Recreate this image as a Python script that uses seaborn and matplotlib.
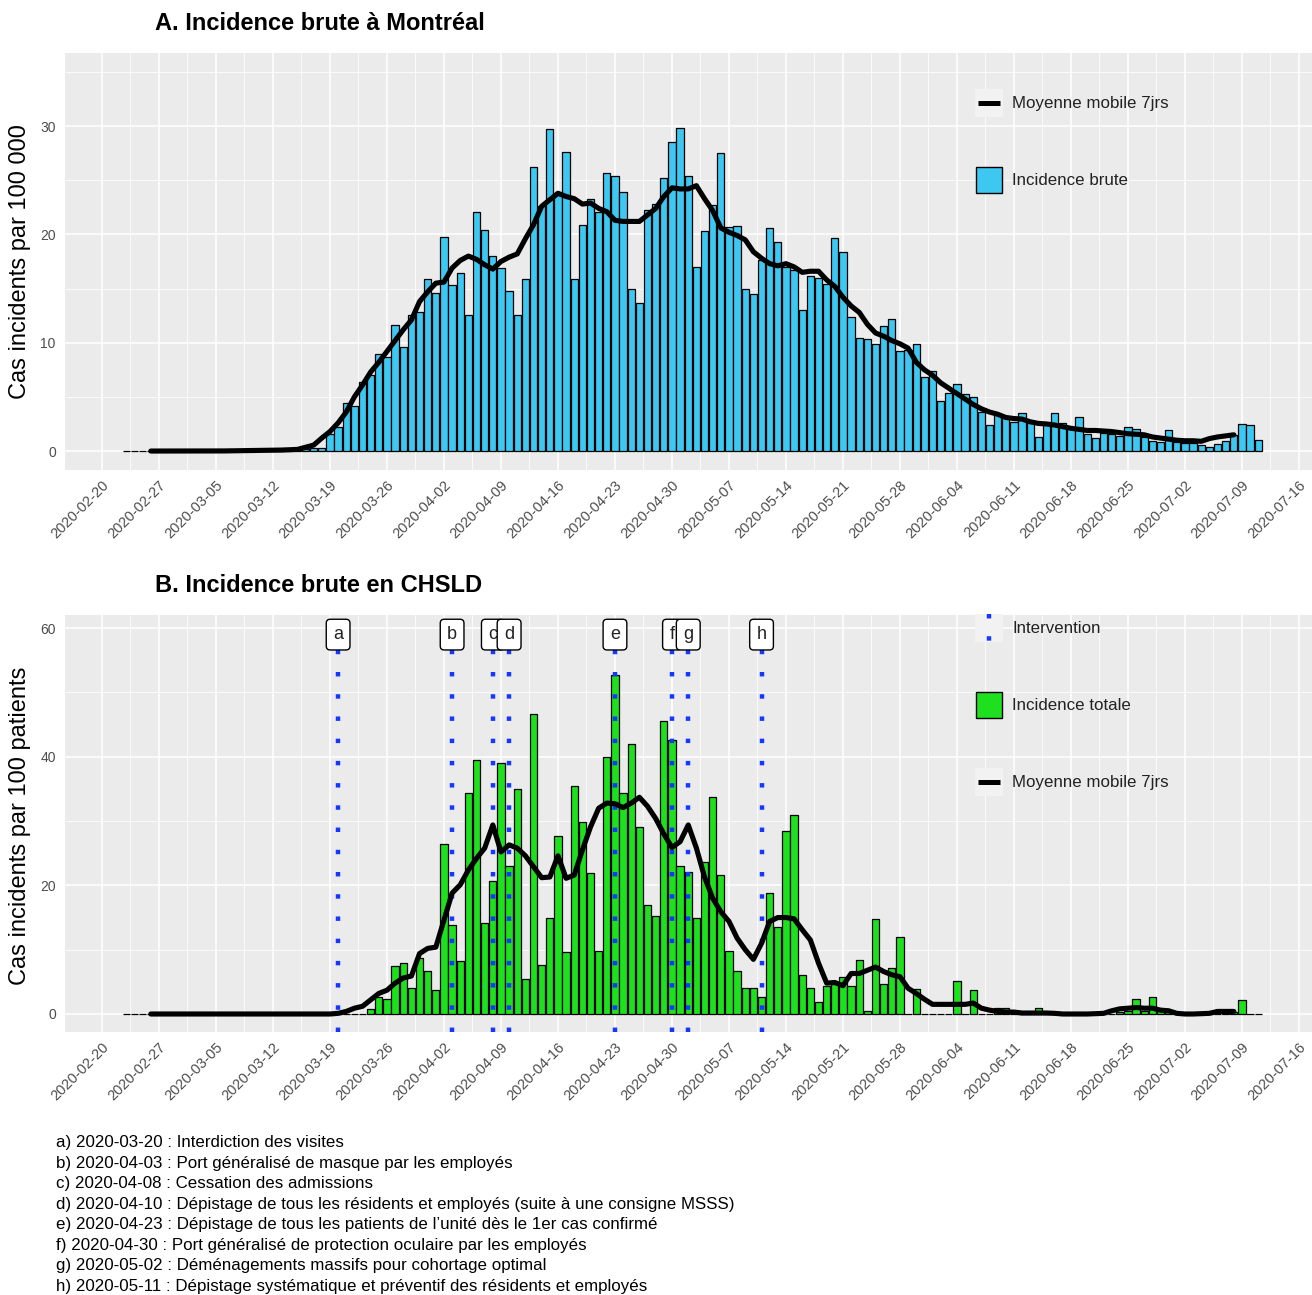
import numpy as np
import pandas as pd
import matplotlib
matplotlib.use("Agg")
import matplotlib.pyplot as plt
import matplotlib.dates as mdates
from matplotlib.lines import Line2D
from matplotlib.patches import Rectangle, Patch
from matplotlib.legend_handler import HandlerBase
from matplotlib.ticker import FixedLocator, NullFormatter
import seaborn as sns

# ---------------- data ----------------
first_day = "2020-02-23"
ma_first_day = "2020-02-26"

mtl_incidence = [0, 0, 0, 0, 0, 0, 0, 0, 0, 0, 0, 0,
                 0.02, 0.02, 0.02, 0.02, 0.05, 0.05, 0.05,
                 0.08, 0.1, 0.15, 0.15, 0.25, 0.3,
                 1.6, 2.2, 4.4, 4.2, 6.4, 7.0, 9.0, 8.7, 11.6, 9.6,
                 12.6, 12.8, 15.9, 14.6, 19.8, 15.3, 16.4, 12.6, 22.1, 20.4,
                 18.0, 16.9, 14.8, 12.6, 15.9, 26.2, 22.6, 29.7, 23.6, 27.6,
                 15.9, 20.9, 23.3, 22.1, 25.7, 25.4, 23.9, 15.0, 13.7, 22.3,
                 22.8, 25.2, 28.5, 29.8, 25.4, 17.0, 20.3, 22.7, 27.5, 20.7,
                 20.8, 15.0, 14.5, 17.6, 20.6, 19.3, 17.0, 16.7, 13.0, 16.2,
                 16.0, 15.4, 19.7, 18.4, 12.4, 10.4, 10.3, 9.9, 11.5, 12.2,
                 9.2, 9.3, 9.9, 6.8, 7.4, 4.6, 5.4, 6.2, 5.3, 5.0,
                 3.6, 2.4, 3.3, 3.1, 2.7, 3.5, 2.7, 1.3, 2.5, 3.5,
                 2.6, 2.2, 3.1, 1.6, 1.2, 1.7, 1.6, 1.4, 2.2, 2.0,
                 1.3, 0.9, 0.8, 1.9, 0.8, 0.7, 0.7, 0.55, 0.4, 0.65,
                 0.9, 1.5, 2.5, 2.4, 1.0]

mtl_ma = [0, 0, 0, 0, 0, 0, 0, 0, 0,
          0.01, 0.02, 0.03, 0.03, 0.04, 0.05,
          0.07, 0.09, 0.12, 0.15, 0.35, 0.55, 1.2,
          1.8, 2.6, 3.6, 5.0, 6.1, 7.3, 8.2, 9.2, 10.2, 11.2,
          12.1, 13.8, 14.7, 15.5, 15.6, 16.9, 17.6, 18.0, 17.7, 17.2,
          16.8, 17.5, 17.9, 18.2, 19.6, 20.9, 22.6, 23.2, 23.8, 23.5,
          23.3, 22.8, 22.9, 22.4, 22.1, 21.3, 21.2, 21.2, 21.2, 21.8,
          22.4, 23.5, 24.3, 24.2, 24.2, 24.5, 23.3, 22.2, 20.6, 20.2,
          19.9, 19.5, 18.4, 17.8, 17.3, 17.1, 17.3, 17.0, 16.5, 16.6,
          16.6, 15.8, 15.2, 14.2, 13.4, 12.8, 11.7, 10.9, 10.6, 10.2,
          9.9, 9.5, 8.2, 7.5, 7.0, 6.3, 5.8, 5.3, 4.8, 4.3,
          3.9, 3.6, 3.4, 3.1, 3.0, 2.95, 2.7, 2.55, 2.5, 2.4,
          2.25, 2.1, 2.0, 1.9, 1.9, 1.85, 1.8, 1.7, 1.6, 1.55,
          1.5, 1.3, 1.2, 1.1, 1.0, 0.95, 0.95, 0.9, 1.15, 1.3,
          1.4, 1.5]

chsld_incidence = [0] * 30 + [
    0.7, 2.7, 2.4, 7.5, 7.9, 4.0, 8.7, 6.7, 3.7, 26.5,
    13.8, 8.3, 34.4, 39.5, 14.1, 20.7, 39.0, 23.0, 35.0, 5.5,
    46.6, 7.6, 14.9, 27.7, 9.7, 35.4, 29.9, 21.9, 9.8, 40.0,
    52.7, 34.3, 42.0, 29.1, 16.9, 15.2, 45.6, 42.6, 23.0, 22.1,
    14.9, 23.7, 33.7, 21.6, 9.8, 6.7, 4.1, 4.0, 2.7, 18.8,
    13.5, 28.5, 30.9, 6.1, 4.0, 1.8, 4.4, 4.6, 5.8, 4.3,
    8.4, 0.5, 14.8, 4.7, 7.1, 11.9, 0.0, 3.9, 0, 0,
    0, 0, 5.2, 0, 3.7, 0, 0, 1.0, 1.0, 0,
    0, 0, 0.9, 0, 0, 0, 0, 0, 0, 0,
    0, 0, 0.3, 0.5, 2.4, 0.5, 2.6, 0.5, 0.3, 0,
    0, 0, 0, 0, 0, 0.3, 0.3, 2.2, 0, 0]

chsld_ma = [0] * 23 + [
    0.1, 0.4, 0.9, 1.2, 2.2, 3.2, 3.7, 4.8, 5.6, 5.9,
    9.4, 10.2, 10.4, 14.6, 18.8, 20.1, 22.4, 24.2, 25.8, 29.4,
    25.2, 26.3, 25.8, 24.6, 22.9, 21.2, 21.3, 24.6, 21.1, 21.6,
    25.5, 29.1, 32.0, 32.8, 32.7, 32.1, 32.8, 33.7, 32.3, 30.4,
    28.0, 25.9, 26.8, 29.4, 25.8, 21.3, 18.0, 15.9, 14.4, 11.8,
    10.0, 8.5, 11.0, 14.4, 15.0, 15.0, 14.8, 13.1, 11.5, 7.9,
    4.8, 4.9, 4.4, 6.3, 6.3, 6.8, 7.3, 6.6, 6.1, 5.8,
    4.0, 3.2, 2.3, 1.5, 1.5, 1.5, 1.5, 1.5, 1.7, 0.9,
    0.6, 0.4, 0.3, 0.3, 0.15, 0.15, 0.15, 0.15, 0.1, 0.0,
    0, 0, 0, 0.05, 0.1, 0.5, 0.8, 0.9, 1.0, 0.9,
    0.9, 0.6, 0.5, 0.1, 0.0, 0.0, 0.05, 0.1, 0.4, 0.4,
    0.4]

interv_dates = ["2020-03-20", "2020-04-03", "2020-04-08", "2020-04-10",
                "2020-04-23", "2020-04-30", "2020-05-02", "2020-05-11"]
interv_letters = ["a", "b", "c", "d", "e", "f", "g", "h"]
interv_text = ["Interdiction des visites",
               "Port généralisé de masque par les employés",
               "Cessation des admissions",
               "Dépistage de tous les résidents et employés (suite à une consigne MSSS)",
               "Dépistage de tous les patients de l\u2019unité dès le 1er cas confirmé",
               "Port généralisé de protection oculaire par les employés",
               "Déménagements massifs pour cohortage optimal",
               "Dépistage systématique et préventif des résidents et employés"]

tick_dates = pd.date_range("2020-02-20", "2020-07-16", freq="7D")

# ---------------- style ----------------
sns.set_theme(style="darkgrid", rc={"axes.facecolor": "#EBEBEB",
                                     "grid.color": "white",
                                     "axes.edgecolor": "#EBEBEB"})
plt.rcParams["font.family"] = ["Liberation Sans", "DejaVu Sans"]

BLUE_BAR = "#3EC8F1"
GREEN_BAR = "#1FE01F"
DOT_BLUE = "#1438FF"
TXT_GREY = "#4D4D4D"

W, H = 1312, 1295
fig = plt.figure(figsize=(W / 100, H / 100), dpi=100)


def fx(px):
    return px / W


def fy(py):
    return 1 - py / H


days = pd.date_range(first_day, periods=len(mtl_incidence))
ma_days = pd.date_range(ma_first_day, periods=len(mtl_ma))
x_num = mdates.date2num(days)
ma_x = mdates.date2num(ma_days)
base = mdates.date2num(pd.Timestamp("2020-02-20"))
xlim = (base - 4.54, base + 148.6)
tick_num = mdates.date2num(tick_dates)
minor_num = tick_num[:-1] + 3.5
tick_labels = [d.strftime("%Y-%m-%d") for d in tick_dates]

dotted = (0, (1, 4.0))
DOT_LW = 3.2


class KeyHandler(HandlerBase):
    def __init__(self, kind, color=None):
        super().__init__()
        self.kind = kind
        self.color = color

    def create_artists(self, legend, orig_handle, xdescent, ydescent,
                       width, height, fontsize, trans):
        x0, y0 = -xdescent, -ydescent
        arts = []
        if self.kind == "line":
            arts.append(Rectangle((x0, y0), width, height, fc="#F2F2F2",
                                  ec="none", transform=trans))
            arts.append(Line2D([x0 + width * 0.12, x0 + width * 0.88],
                               [y0 + height / 2] * 2, color="black", lw=3.6,
                               solid_capstyle="butt", transform=trans))
        elif self.kind == "patch":
            arts.append(Rectangle((x0 + 1, y0 + 1), width - 2, height - 2,
                                  fc=self.color, ec="black", lw=1.0,
                                  transform=trans))
        elif self.kind == "vline":
            arts.append(Rectangle((x0, y0), width, height, fc="#F2F2F2",
                                  ec="none", transform=trans))
            arts.append(Line2D([x0 + width / 2] * 2, [y0 + height, y0],
                               color=DOT_BLUE, lw=DOT_LW, ls=dotted,
                               transform=trans))
        return arts


def style_axes(ax, yticks, yminor, ylim):
    ax.set_xlim(*xlim)
    ax.set_ylim(*ylim)
    ax.xaxis.set_major_locator(FixedLocator(tick_num))
    ax.set_xticklabels(tick_labels, rotation=45, ha="right", va="top",
                       rotation_mode="anchor", color=TXT_GREY, fontsize=10.5)
    ax.xaxis.set_minor_locator(FixedLocator(minor_num))
    ax.yaxis.set_major_locator(FixedLocator(yticks))
    ax.set_yticklabels([str(v) for v in yticks], color=TXT_GREY, fontsize=10)
    ax.yaxis.set_minor_locator(FixedLocator(yminor))
    ax.xaxis.set_minor_formatter(NullFormatter())
    ax.yaxis.set_minor_formatter(NullFormatter())
    ax.grid(True, which="major", color="white", lw=1.1)
    ax.grid(True, which="minor", color="white", lw=0.55)
    ax.set_axisbelow(True)
    ax.tick_params(axis="both", which="major", length=3.6, width=0.8,
                   color="#333333", direction="out", pad=3)
    ax.tick_params(axis="x", which="major", pad=2)
    ax.tick_params(axis="both", which="minor", length=0)
    for s in ax.spines.values():
        s.set_visible(False)
    ax.set_xlabel("")
    ax.set_ylabel("")


LEG_KW = dict(loc="upper left", frameon=False, borderpad=0, borderaxespad=0,
              fontsize=12.2, handlelength=1.65, handleheight=2.17,
              labelspacing=2.89, handletextpad=0.55, labelcolor="#222222")

# ---------------- Panel A ----------------
axA = fig.add_axes([fx(65), fy(470), fx(1247), 417 / H])
sns.barplot(x=x_num, y=mtl_incidence, native_scale=True, width=0.9,
            color=BLUE_BAR, saturation=1, edgecolor="black", linewidth=0.9,
            errorbar=None, ax=axA, zorder=2)
sns.lineplot(x=ma_x, y=mtl_ma, color="black", linewidth=3.7, ax=axA,
             zorder=4, legend=False)
style_axes(axA, [0, 10, 20, 30], [5, 15, 25, 35], (-1.75, 36.75))

hA1 = Line2D([], [])
hA2 = Patch()
fig.legend([hA1, hA2], ["Moyenne mobile 7jrs", "Incidence brute"],
           handler_map={hA1: KeyHandler("line"), hA2: KeyHandler("patch", BLUE_BAR)},
           bbox_to_anchor=(fx(975), fy(89)), **LEG_KW)

fig.text(fx(155), fy(23), "A. Incidence brute à Montréal", fontsize=17,
         fontweight="bold", va="center", ha="left", color="black")
fig.text(fx(20), fy(262), "Cas incidents par 100 000", rotation=90,
         fontsize=17, va="center", ha="center", color="black")

# ---------------- Panel B ----------------
axB = fig.add_axes([fx(65), fy(1032), fx(1247), 417 / H])
sns.barplot(x=x_num, y=chsld_incidence, native_scale=True, width=0.9,
            color=GREEN_BAR, saturation=1, edgecolor="black", linewidth=0.9,
            errorbar=None, ax=axB, zorder=2)
interv_num = mdates.date2num(pd.to_datetime(interv_dates))
for xv in interv_num:
    axB.axvline(xv, color=DOT_BLUE, lw=DOT_LW, ls=dotted, zorder=3)
sns.lineplot(x=ma_x, y=chsld_ma, color="black", linewidth=3.7, ax=axB,
             zorder=4, legend=False)
for xv, lab in zip(interv_num, interv_letters):
    axB.text(xv, 59.0, lab, ha="center", va="center", fontsize=13,
             color="#222222", zorder=6,
             bbox=dict(boxstyle="round,pad=0.38,rounding_size=0.22", fc="white",
                       ec="black", lw=1.0))
style_axes(axB, [0, 20, 40, 60], [10, 30, 50], (-2.8, 62.05))

hB1 = Line2D([], [])
hB2 = Patch()
hB3 = Line2D([], [], color="k")
fig.legend([hB1, hB2, hB3], ["Intervention", "Incidence totale", "Moyenne mobile 7jrs"],
           handler_map={hB1: KeyHandler("vline"), hB2: KeyHandler("patch", GREEN_BAR),
                        hB3: KeyHandler("line")},
           bbox_to_anchor=(fx(975), fy(614)), **LEG_KW)

fig.text(fx(155), fy(585), "B. Incidence brute en CHSLD", fontsize=17,
         fontweight="bold", va="center", ha="left", color="black")
fig.text(fx(20), fy(826), "Cas incidents par 100 patients", rotation=90,
         fontsize=17, va="center", ha="center", color="black")

# ---------------- footnotes ----------------
for i, (lab, d, t) in enumerate(zip(interv_letters, interv_dates, interv_text)):
    fig.text(fx(56), fy(1143 + i * 20.45), f"{lab}) {d} : {t}", fontsize=12.2,
             va="center", ha="left", color="black")

fig.savefig("out.png", dpi=100, facecolor="white")
